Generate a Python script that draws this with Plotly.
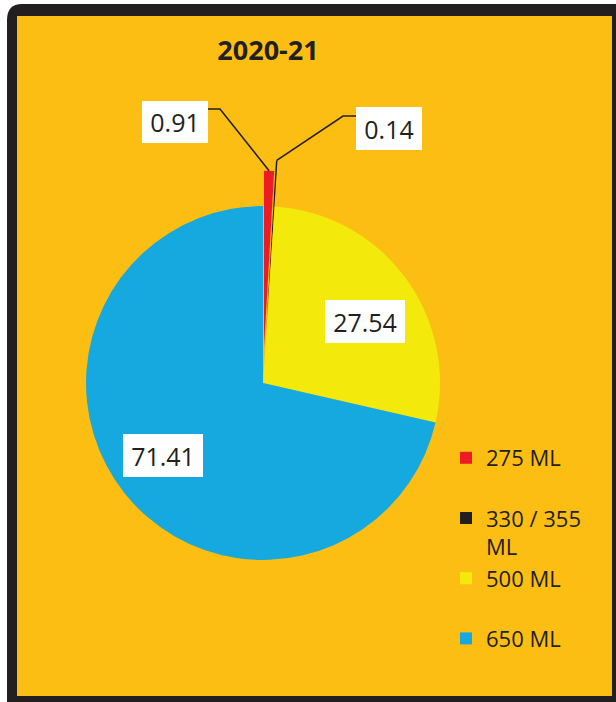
import math
import plotly.graph_objects as go

# ---- data ----
categories = ["275 ML", "330 / 355 ML", "500 ML", "650 ML"]
values = [0.91, 0.14, 27.54, 71.41]
value_labels = ["0.91", "0.14", "27.54", "71.41"]
colors = ["#ED1C24", "#231F20", "#F3EA0C", "#15A9E0"]
pulls = [0.2, 0.26, 0, 0]
title_text = "2020-21"

# ---- layout helpers (pixel -> paper) ----
W, H = 616, 702
def X(p): return p / W
def Y(p): return 1 - p / H

FONT = "Open Sans"
DARK = "#231F20"
ORANGE = "#FDBE13"

# legend names (wrap like the original)
legend_names = ["275 ML<br> ", "330 / 355<br>ML", "500 ML<br> ", "650 ML<br> "]

cx, cy, half = 263, 383, 223
R = half / (1 + max(pulls))

fig = go.Figure(go.Pie(
    labels=legend_names,
    values=values,
    marker=dict(colors=colors, line=dict(width=0)),
    pull=pulls,
    sort=False,
    direction="clockwise",
    rotation=0,
    textinfo="none",
    hoverinfo="label+value",
    domain=dict(x=[X(cx - half), X(cx + half)], y=[Y(cy + half), Y(cy - half)]),
))

# anchor points on slices, computed from the data
total = sum(values)
anchors = []
cum = 0
for v, p in zip(values, pulls):
    th = math.radians(360 * (cum + v / 2) / total)
    rr = R * (1 + p)
    anchors.append((cx + rr * math.sin(th), cy - rr * math.cos(th)))
    cum += v

shapes = [
    dict(type="path", xref="paper", yref="paper", layer="below",
         path=f"M {X(7)},{Y(20)} Q {X(7)},{Y(4)} {X(22)},{Y(4)} L {X(640)},{Y(4)} L {X(640)},{Y(720)} L {X(7)},{Y(720)} Z",
         fillcolor=DARK, line=dict(width=0)),
    dict(type="rect", xref="paper", yref="paper", layer="below",
         x0=X(17), x1=X(612), y0=Y(696), y1=Y(16),
         fillcolor=ORANGE, line=dict(width=0)),
]

# leader lines for the two small slices
leader_pts = [
    [(208, 109), (220, 109)],
    [(356, 116), (343, 116)],
]
for i, pts in enumerate(leader_pts):
    ax_, ay_ = anchors[i]
    path = f"M {X(pts[0][0])},{Y(pts[0][1])} L {X(pts[1][0])},{Y(pts[1][1])} L {X(ax_)},{Y(ay_)}"
    shapes.append(dict(type="path", xref="paper", yref="paper", path=path,
                       line=dict(color=DARK, width=1.6)))

label_boxes = [(175, 122, 66, 42), (389, 128.5, 66, 43), (365, 321.5, 80, 43), (163, 455.5, 80, 43)]
annotations = []
for txt, (bx, by, bw, bh) in zip(value_labels, label_boxes):
    annotations.append(dict(
        x=X(bx), y=Y(by), xref="paper", yref="paper", text=txt, showarrow=False,
        xanchor="center", yanchor="middle", width=bw, height=bh,
        bgcolor="white", borderpad=0, borderwidth=0,
        font=dict(family=FONT, size=25, color=DARK),
    ))

fig.update_layout(
    width=W, height=H,
    margin=dict(l=0, r=0, t=0, b=0),
    paper_bgcolor="white",
    plot_bgcolor="rgba(0,0,0,0)",
    title=dict(text=f"<b>{title_text}</b>", x=X(268), y=Y(51), xanchor="center", yanchor="middle",
               font=dict(family=FONT, size=27, color=DARK)),
    showlegend=True,
    legend=dict(x=X(446), y=Y(437), xanchor="left", yanchor="top",
                bgcolor="rgba(0,0,0,0)", valign="top",
                font=dict(family=FONT, size=22, color=DARK), traceorder="normal"),
    shapes=shapes,
    annotations=annotations,
)

fig.write_html("out.html")
